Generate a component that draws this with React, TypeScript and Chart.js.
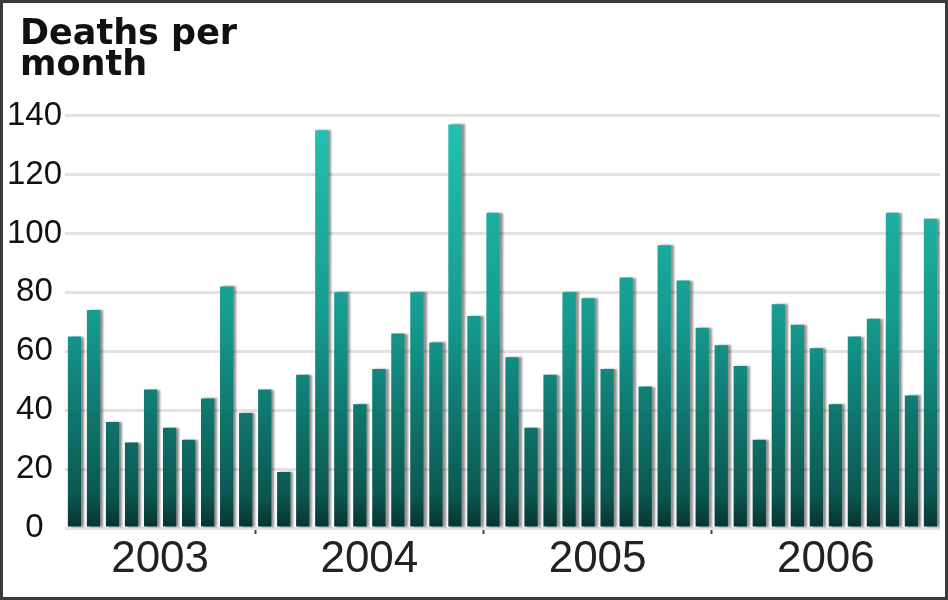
import React, { useEffect, useRef } from 'react';
import { Chart, registerables } from 'chart.js';

Chart.register(...registerables);

const monthLabels = [
  'Mar 2003', 'Apr 2003', 'May 2003', 'Jun 2003', 'Jul 2003', 'Aug 2003', 'Sep 2003', 'Oct 2003', 'Nov 2003', 'Dec 2003',
  'Jan 2004', 'Feb 2004', 'Mar 2004', 'Apr 2004', 'May 2004', 'Jun 2004', 'Jul 2004', 'Aug 2004', 'Sep 2004', 'Oct 2004', 'Nov 2004', 'Dec 2004',
  'Jan 2005', 'Feb 2005', 'Mar 2005', 'Apr 2005', 'May 2005', 'Jun 2005', 'Jul 2005', 'Aug 2005', 'Sep 2005', 'Oct 2005', 'Nov 2005', 'Dec 2005',
  'Jan 2006', 'Feb 2006', 'Mar 2006', 'Apr 2006', 'May 2006', 'Jun 2006', 'Jul 2006', 'Aug 2006', 'Sep 2006', 'Oct 2006', 'Nov 2006', 'Dec 2006',
];

const deaths = [
  65, 74, 36, 29, 47, 34, 30, 44, 82, 39,
  47, 19, 52, 135, 80, 42, 54, 66, 80, 63, 137, 72,
  107, 58, 34, 52, 80, 78, 54, 85, 48, 96, 84, 68,
  62, 55, 30, 76, 69, 61, 42, 65, 71, 107, 45, 105,
];

const yearLabels = ['2003', '2004', '2005', '2006'];
const monthsPerYear = [10, 12, 12, 12];

const yTicks = [0, 20, 40, 60, 80, 100, 120, 140];
const titleLines = ['Deaths per', 'month'];

// derived category-index positions of year centres and boundaries
const yearCenters: number[] = [];
const yearBounds: number[] = [];
{
  let start = 0;
  monthsPerYear.forEach((n, i) => {
    yearCenters.push(start + (n - 1) / 2);
    if (i < monthsPerYear.length - 1) yearBounds.push(start + n - 0.5);
    start += n;
  });
}

const isBound = (v: number) => yearBounds.some((b) => Math.abs(b - v) < 1e-6);

const shadowPlugin = {
  id: 'barShadow',
  beforeDatasetsDraw(chart: any) {
    const c = chart.ctx;
    c.save();
    c.shadowColor = 'rgba(0,0,0,0.42)';
    c.shadowOffsetX = 3;
    c.shadowOffsetY = 0;
    c.shadowBlur = 2;
  },
  afterDatasetsDraw(chart: any) {
    chart.ctx.restore();
  },
};

const titleShiftPlugin = {
  id: 'titleShift',
  afterLayout(chart: any) {
    if (chart.titleBlock) chart.titleBlock.left += 12;
  },
};

export default function App() {
  const canvasRef = useRef<HTMLCanvasElement | null>(null);

  useEffect(() => {
    if (!canvasRef.current) return;
    const chart = new Chart(canvasRef.current, {
      type: 'bar',
      data: {
        labels: monthLabels,
        datasets: [
          {
            label: 'Deaths per month',
            data: deaths,
            backgroundColor: (ctx: any) => {
              const area = ctx.chart.chartArea;
              if (!area) return '#138a7e';
              const g = ctx.chart.ctx.createLinearGradient(0, area.top, 0, area.bottom);
              g.addColorStop(0, '#24c2b2');
              g.addColorStop(0.5, '#159a8e');
              g.addColorStop(0.92, '#0b5750');
              g.addColorStop(1, '#06332f');
              return g;
            },
            borderWidth: 0,
            categoryPercentage: 1,
            barPercentage: 0.7,
            xAxisID: 'x',
            yAxisID: 'y',
          },
        ],
      },
      options: {
        responsive: false,
        maintainAspectRatio: false,
        animation: false,
        layout: { padding: { left: 5, right: 5, top: 0, bottom: 11 } },
        plugins: {
          legend: { display: false },
          tooltip: { enabled: false },
          title: {
            display: true,
            text: titleLines,
            align: 'start',
            color: '#111111',
            font: { family: "'DejaVu Sans', sans-serif", size: 35, weight: 'bold', lineHeight: 0.88 },
            padding: { top: 17, bottom: 34 },
          },
        },
        scales: {
          x: {
            type: 'category',
            display: false,
            offset: true,
            grid: { display: false },
          },
          x2: {
            type: 'linear',
            position: 'bottom',
            bounds: 'data',
            offset: false,
            min: -0.5,
            max: deaths.length - 0.5,
            afterBuildTicks: (scale: any) => {
              scale.ticks = [...yearCenters, ...yearBounds]
                .sort((a, b) => a - b)
                .map((v) => ({ value: v }));
            },
            ticks: {
              autoSkip: false,
              maxRotation: 0,
              padding: 4,
              color: '#222222',
              font: { family: "'Liberation Sans', Arial, sans-serif", size: 44, lineHeight: 1 },
              callback: (value: any) => {
                const idx = yearCenters.findIndex((c) => Math.abs(c - Number(value)) < 1e-6);
                return idx >= 0 ? yearLabels[idx] : '';
              },
            },
            grid: {
              display: true,
              offset: false,
              drawOnChartArea: true,
              color: (ctx: any) => (ctx.tick && isBound(ctx.tick.value) ? '#ffffff' : 'rgba(0,0,0,0)'),
              lineWidth: 3,
              tickColor: (ctx: any) => (ctx.tick && isBound(ctx.tick.value) ? '#444444' : 'rgba(0,0,0,0)'),
              tickLength: 6,
              tickWidth: 2,
            },
            border: { display: false },
          },
          y: {
            z: -1,
            min: 0,
            max: 140,
            afterBuildTicks: (scale: any) => {
              scale.ticks = yTicks.map((v) => ({ value: v }));
            },
            afterFit: (scale: any) => {
              scale.width = 57;
            },
            ticks: {
              crossAlign: 'center',
              padding: 3,
              color: '#111111',
              font: { family: "'Liberation Sans', Arial, sans-serif", size: 33 },
            },
            grid: {
              color: '#e2e2e2',
              lineWidth: 3,
              drawTicks: false,
            },
            border: { display: false },
          },
        },
      },
      plugins: [shadowPlugin, titleShiftPlugin],
    } as any);
    return () => chart.destroy();
  }, []);

  return (
    <div
      style={{
        position: 'absolute',
        left: 0,
        top: 0,
        width: 948,
        height: 600,
        boxSizing: 'border-box',
        border: '3px solid #3a3a3a',
        background: '#ffffff',
      }}
    >
      <canvas ref={canvasRef} width={942} height={594} style={{ display: 'block' }} />
    </div>
  );
}
